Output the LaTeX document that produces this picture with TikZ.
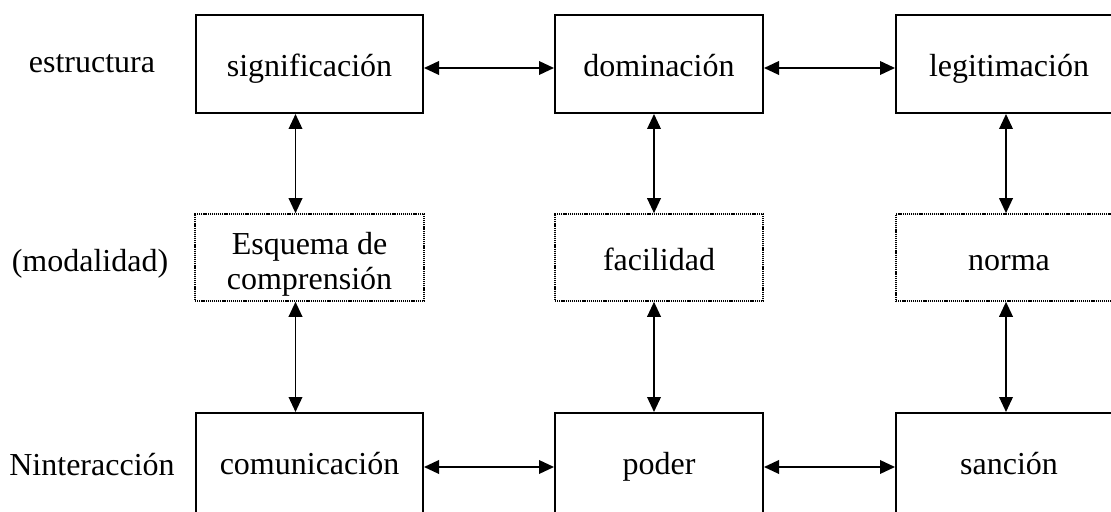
\documentclass[tikz,border=0pt]{standalone}
\usepackage{fontspec}
\setmainfont{Liberation Serif}
\usetikzlibrary{arrows.meta}
\tikzset{
	caja/.style={draw, line width=1pt, inner sep=0pt, text height=14.5pt, text depth=1.5pt},
	cajapunteada/.style={draw, line width=0.8pt, dash pattern=on 0.6pt off 0.45pt, inner sep=0pt, align=center},
	flecha/.style={{Triangle[length=7.5pt,width=6.8pt]}-{Triangle[length=7.5pt,width=6.8pt]}, line width=0.85pt},
	etiqueta/.style={inner sep=0pt, text height=14.5pt, text depth=1.5pt}
}
\begin{document}
\begin{tikzpicture}[x=0.5pt,y=-0.5pt,font=\fontsize{16}{17.5}\selectfont]
		\useasboundingbox (0,0) rectangle (1111,512);
		\node[etiqueta] (estructura) at (92,60) {estructura};
		\node[etiqueta] (modalidad) at (90,259) {(modalidad)};
		\node[etiqueta] (interaccion) at (92,462) {Ninteracción};
		\node[caja,minimum width=113.5pt,minimum height=49pt] (sig) at (309.5,64) {significación};
		\node[caja,minimum width=104pt,minimum height=49pt] (dom) at (659,64) {dominación};
		\node[caja,minimum width=113pt,minimum height=49pt] (leg) at (1009,64) {legitimación};
		\node[cajapunteada,minimum width=114.5pt,minimum height=43.5pt,text height=34pt,text depth=1.5pt] (esq) at (309.5,257.5) {Esquema de\\comprensión};
		\node[cajapunteada,minimum width=104pt,minimum height=43.5pt,text height=14.5pt,text depth=1.5pt] (fac) at (659,257.5) {facilidad};
		\node[cajapunteada,minimum width=113pt,minimum height=43.5pt,text height=14.5pt,text depth=1.5pt] (nor) at (1009,257.5) {norma};
		\node[caja,minimum width=113.5pt,minimum height=50pt,text height=13pt] (com) at (309.5,463) {comunicación};
		\node[caja,minimum width=104pt,minimum height=50pt,text height=13pt] (pod) at (659,463) {poder};
		\node[caja,minimum width=113pt,minimum height=50pt,text height=13pt] (san) at (1009,463) {sanción};
		\draw[flecha] ([yshift=-2pt]sig.east) -- ([yshift=-2pt]dom.west);
		\draw[flecha] ([yshift=-2pt]dom.east) -- ([yshift=-2pt]leg.west);
		\draw[flecha] ([yshift=-2pt]com.east) -- ([yshift=-2pt]pod.west);
		\draw[flecha] ([yshift=-2pt]pod.east) -- ([yshift=-2pt]san.west);
		\draw[flecha] ([xshift=-7pt]sig.south) -- ([xshift=-7pt]esq.north);
		\draw[flecha] ([xshift=-7pt]esq.south) -- ([xshift=-7pt]com.north);
		\draw[flecha] ([xshift=-2.5pt]dom.south) -- ([xshift=-2.5pt]fac.north);
		\draw[flecha] ([xshift=-2.5pt]fac.south) -- ([xshift=-2.5pt]pod.north);
		\draw[flecha] ([xshift=-1.5pt]leg.south) -- ([xshift=-1.5pt]nor.north);
		\draw[flecha] ([xshift=-1.5pt]nor.south) -- ([xshift=-1.5pt]san.north);
	\end{tikzpicture}
\end{document}
